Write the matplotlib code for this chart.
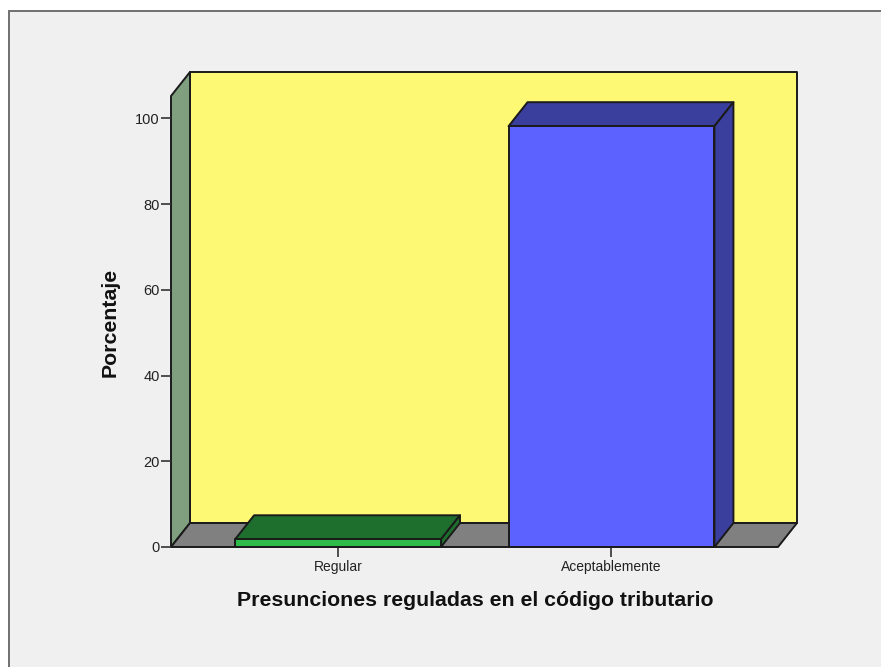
import matplotlib
matplotlib.use("Agg")
import matplotlib.pyplot as plt
from matplotlib.patches import Polygon, Rectangle

plt.rcParams["font.family"] = ["Liberation Sans", "DejaVu Sans"]

# Datos
categorias = ["Regular", "Aceptablemente"]
porcentajes = [1.8, 98.2]
colores_frente = ["#2DBB4A", "#5C62FF"]
colores_oscuros = ["#1E6F2E", "#3A3F9E"]
ticks_y = [0, 20, 40, 60, 80, 100]

W, H = 881, 667
fig = plt.figure(figsize=(W / 100, H / 100), dpi=100, facecolor="white")

# marco del grafico
fig.add_artist(Rectangle((8.5 / W, -0.01), 1, 1 - 10.5 / H + 0.01, transform=fig.transFigure,
                         facecolor="#F0F0F0", edgecolor="#707070", lw=1.4, zorder=-1))

# ejes = plano frontal del cubo
ax = fig.add_axes([171 / W, 1 - 547 / H, (778 - 171) / W, (547 - 96) / H])
ax.set_xlim(-0.611, 1.609)
ax.set_ylim(0, 105.25)
ax.patch.set_visible(False)
for s in ax.spines.values():
    s.set_visible(False)

# profundidad 3D en unidades de datos
dx = 19 / 273.5
dy = 24 / 4.285
x0, x1 = ax.get_xlim()
y0, y1 = ax.get_ylim()
ec = "#1A1A1A"
lw = 1.4


def poly(pts, color, z):
    ax.add_patch(Polygon(pts, closed=True, facecolor=color, edgecolor=ec, lw=lw,
                         joinstyle="round", clip_on=False, zorder=z))


# paredes y piso
poly([(x0 + dx, y0 + dy), (x1 + dx, y0 + dy), (x1 + dx, y1 + dy), (x0 + dx, y1 + dy)], "#FDF975", 1)
poly([(x0, y0), (x0 + dx, y0 + dy), (x0 + dx, y1 + dy), (x0, y1)], "#7F9F7F", 1)
poly([(x0, y0), (x1, y0), (x1 + dx, y0 + dy), (x0 + dx, y0 + dy)], "#808080", 1)

# barras
ancho = 0.753
for i, v in enumerate(porcentajes):
    a, b = i - ancho / 2, i + ancho / 2
    poly([(a, v), (b, v), (b + dx, v + dy), (a + dx, v + dy)], colores_oscuros[i], 3)
    poly([(b, 0), (b + dx, dy), (b + dx, v + dy), (b, v)], colores_oscuros[i], 3)
    poly([(a, 0), (b, 0), (b, v), (a, v)], colores_frente[i], 4)

ax.set_xticks(range(len(categorias)))
ax.set_xticklabels(categorias)
ax.set_yticks(ticks_y)
ax.tick_params(axis="x", length=7, width=1.2, color="#333333", labelsize=10, pad=2, labelcolor="#222222")
ax.tick_params(axis="y", length=7, width=1.2, color="#333333", labelsize=10.5, pad=1, labelcolor="#222222")

fig.text(475 / W, 1 - 601 / H, "Presunciones reguladas en el código tributario",
         ha="center", va="center", fontsize=15.3, fontweight="bold", color="#111111")
fig.text(110 / W, 1 - 322 / H, "Porcentaje", rotation=90,
         ha="center", va="center", fontsize=15.3, fontweight="bold", color="#111111")

fig.savefig("out.png", dpi=100, facecolor=fig.get_facecolor())
